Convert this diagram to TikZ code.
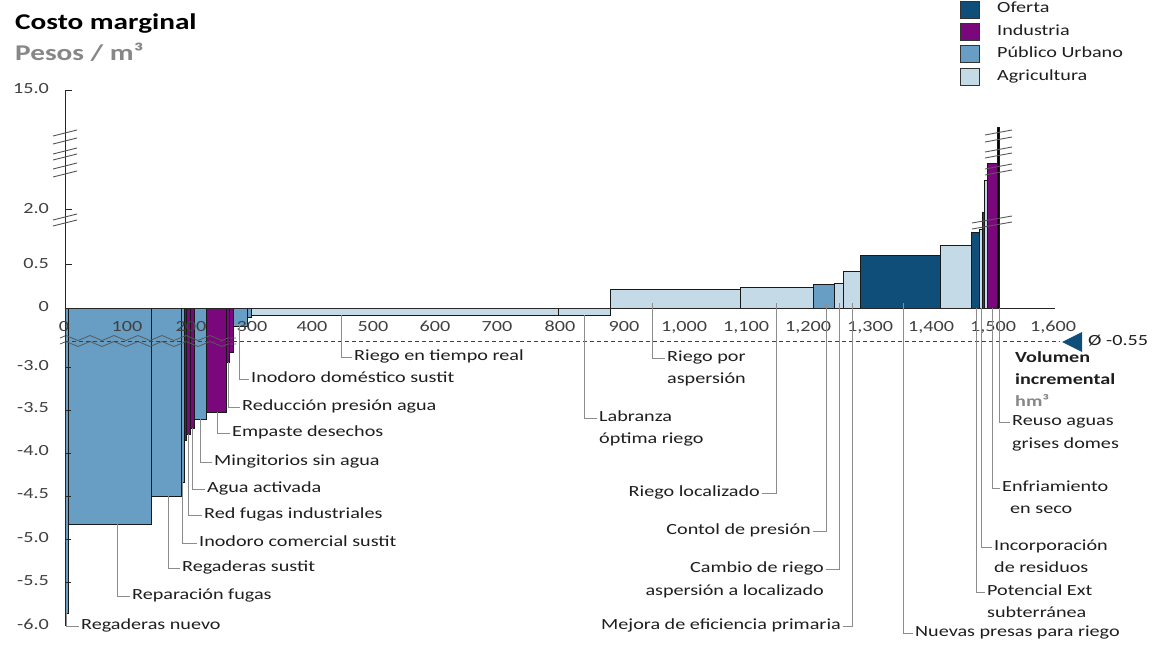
\documentclass[tikz,border=0pt]{standalone}
\usepackage{fontspec}
\setmainfont{Carlito}[FakeStretch=1.3]
\usetikzlibrary{decorations.pathmorphing}

\definecolor{oferta}{RGB}{16,78,122}
\definecolor{industria}{RGB}{122,8,124}
\definecolor{urbano}{RGB}{104,158,195}
\definecolor{agri}{RGB}{196,218,230}
\definecolor{leadergray}{RGB}{140,140,140}
\definecolor{softgray}{RGB}{135,135,135}
\definecolor{ink}{RGB}{30,30,30}

\begin{document}
\begin{tikzpicture}[x=1pt,y=-1pt,
  bar/.style={draw=black!90,line width=0.8pt},
  leader/.style={draw=leadergray,line width=0.8pt},
  lbl/.style={font=\fontsize{15.5}{18}\selectfont,text=ink,inner sep=2pt,text height=10pt,text depth=3pt},
  boldlbl/.style={lbl,font=\bfseries\fontsize{15.5}{18}\selectfont},
  num/.style={font=\fontsize{15.5}{18}\selectfont,text=ink!85,inner sep=1pt,text height=10pt,text depth=3pt},
  axisline/.style={draw=black!85,line width=1pt},
  slash/.style={draw=black!65,line width=0.9pt},
  wave/.style={draw=black!65,line width=0.8pt,decorate,decoration={zigzag,segment length=24pt,amplitude=2.5pt}},
  key/.style={draw=black!80,line width=0.8pt,minimum width=19pt,minimum height=17pt,inner sep=0pt},
]
\useasboundingbox (0,0) rectangle (1156,645);
\fill[white] (0,0) rectangle (1156,645);

% ---------- heading ----------
\node[anchor=base west,inner sep=0pt,font=\bfseries\fontsize{22.5}{26}\selectfont,text=black] (title) at (15,29) {Costo marginal};
\node[anchor=base west,inner sep=0pt,font=\bfseries\fontsize{22.5}{26}\selectfont,text=softgray] (unit) at (15,60) {Pesos / m³};

% ---------- legend ----------
\node[key,fill=oferta]    (k1) at (969.5,10) {};
\node[key,fill=industria] (k2) at (969.5,32) {};
\node[key,fill=urbano]    (k3) at (969.5,54) {};
\node[key,fill=agri]      (k4) at (969.5,77) {};
\node[lbl,anchor=west] (t1) at (995,9)  {Oferta};
\node[lbl,anchor=west] (t2) at (995,32) {Industria};
\node[lbl,anchor=west] (t3) at (995,54) {Público Urbano};
\node[lbl,anchor=west] (t4) at (995,77) {Agricultura};

% ---------- bars below zero (hanging from the axis) ----------
\foreach \xa/\xb/\yb/\c in {
  65/68/613/urbano, 68/151/524/urbano, 151/181/496/urbano, 181/184/482/urbano,
  184/186/440/industria, 186/190/434/industria, 190/194/428/industria,
  194/206/419/urbano, 206/226/412/industria, 226/229/362/industria,
  229/233/352/industria, 233/247/326/urbano, 247/251/317/urbano,
  251/558/315/agri, 558/610/315/agri}
  \draw[bar,fill=\c] (\xa,308) rectangle (\xb,\yb);

% ---------- bars above zero ----------
\foreach \xa/\xb/\yt/\c in {
  610/740/289/agri, 740/813/287/agri, 813/834/284/urbano, 834/843/283/agri,
  843/860/271/agri, 860/940/255/oferta, 940/971/245/agri, 971/979/232/oferta,
  979/982/229/agri, 982/984/212/oferta, 984/987/180/agri, 987/997/163/industria,
  997/999/127/black}
  \draw[bar,fill=\c] (\xa,308) rectangle (\xb,\yt);

% ---------- axis break across the negative bars ----------
\draw[wave] (60,338) -- (236,338);
\draw[wave] (60,344) -- (236,344);

% ---------- axes ----------
\draw[axisline] (72,90) -- (65,90) -- (65,626);
\foreach \yy in {209,264} \draw[axisline] (65,\yy) -- (72,\yy);
\foreach \yy in {367,410,453,496,539,582} \draw[axisline] (65,\yy) -- (71,\yy);
\draw[axisline] (65,308) -- (1055,308);

% breaks on the value axis
\foreach \yy in {133,141,151,157,166,174} \draw[slash] (53,\yy+3) -- (77,\yy-3);
\foreach \yy in {217,223} \draw[slash] (53,\yy+3) -- (77,\yy-3);
% breaks on the tall bars at the right
\foreach \yy in {223,229} \draw[slash] (972,\yy) -- (1012,\yy-7);
\foreach \yy in {135,142,152,158,169,175} \draw[slash] (985,\yy) -- (1012,\yy-5);

% value axis labels
\foreach \py/\t [count=\i] in {90/15.0, 210/2.0, 265/0.5, 308/0, 367/-3.0, 409/-3.5,
  452/-4.0, 495/-4.5, 539/-5.0, 582/-5.5, 626/-6.0}
  \node[num,anchor=east] (yl\i) at (50,\py) {\t};

% volume axis labels
\foreach \px/\t [count=\i] in {64/0, 127/100, 191/200, 252/300, 312/400, 373/500,
  435/600, 497/700, 560/800, 624/900, 684/{1,000}, 746/{1,100}, 808/{1,200},
  870/{1,300}, 931/{1,400}, 993/{1,500}, 1053/{1,600}}
  \node[num] (xl\i) at (\px,328) {\t};

% average line
\draw[black!75,line width=0.8pt,dash pattern=on 4pt off 3pt] (65,341) -- (1060,341);
\fill[oferta] (1062,342) -- (1082,332) -- (1082,352) -- cycle;
\node[lbl,anchor=west] (avg) at (1086,342) {Ø -0.55};

\node[boldlbl,anchor=west] (vol1) at (1013,359) {Volumen};
\node[boldlbl,anchor=west] (vol2) at (1013,381) {incremental};
\node[boldlbl,anchor=west,text=softgray] (vol3) at (1013,403) {hm³};

% ---------- labels and leaders ----------
\node[lbl,anchor=west] (l1)  at (79,626)  {Regaderas nuevo};
\node[lbl,anchor=west] (l2)  at (130,596) {Reparación fugas};
\node[lbl,anchor=west] (l3)  at (180,568) {Regaderas sustit};
\node[lbl,anchor=west] (l4)  at (197,543) {Inodoro comercial sustit};
\node[lbl,anchor=west] (l5)  at (202,515) {Red fugas industriales};
\node[lbl,anchor=west] (l6)  at (205,489) {Agua activada};
\node[lbl,anchor=west] (l7)  at (212,462) {Mingitorios sin agua};
\node[lbl,anchor=west] (l8)  at (230,433) {Empaste desechos};
\node[lbl,anchor=west] (l9)  at (240,407) {Reducción presión agua};
\node[lbl,anchor=west] (l10) at (249,379) {Inodoro doméstico sustit};
\node[lbl,anchor=west] (l11) at (352,357) {Riego en tiempo real};
\node[lbl,anchor=west] (l12) at (597,418) {Labranza};
\node[lbl,anchor=west] (l12b) at (597,440) {óptima riego};
\node[lbl,anchor=west] (l13) at (665,358) {Riego por};
\node[lbl,anchor=west] (l13b) at (665,380) {aspersión};
\node[lbl,anchor=east] (l14) at (762,493) {Riego localizado};
\node[lbl,anchor=east] (l15) at (813,531) {Contol de presión};
\node[lbl,anchor=east] (l16) at (826,569) {Cambio de riego};
\node[lbl,anchor=east] (l16b) at (826,592) {aspersión a localizado};
\node[lbl,anchor=east] (l17) at (843,626) {Mejora de eficiencia primaria};
\node[lbl,anchor=west] (l18) at (913,633) {Nuevas presas para riego};
\node[lbl,anchor=west] (l19) at (985,592) {Potencial Ext};
\node[lbl,anchor=west] (l19b) at (985,614) {subterránea};
\node[lbl,anchor=west] (l20) at (992,547) {Incorporación};
\node[lbl,anchor=west] (l20b) at (992,569) {de residuos};
\node[lbl,anchor=west] (l21) at (1000,488) {Enfriamiento};
\node[lbl,anchor=west] (l21b) at (1008,510) {en seco};
\node[lbl,anchor=west] (l22) at (1010,422) {Reuso aguas};
\node[lbl,anchor=west] (l22b) at (1010,445) {grises domes};

\coordinate (c1)  at (66.5,613);
\coordinate (c2)  at (117,524);
\coordinate (c3)  at (168,496);
\coordinate (c4)  at (182.5,482);
\coordinate (c5)  at (188,434);
\coordinate (c6)  at (192,428);
\coordinate (c7)  at (200,419);
\coordinate (c8)  at (217,412);
\coordinate (c9)  at (228,362);
\coordinate (c10) at (239,326);
\coordinate (c11) at (341,315);
\coordinate (c12) at (584,315);
\coordinate (c13) at (652,303);
\coordinate (c14) at (776,303);
\coordinate (c15) at (826,303);
\coordinate (c16) at (839,303);
\coordinate (c17) at (852,303);
\coordinate (c18) at (903,303);
\coordinate (c19) at (976,308);
\coordinate (c20) at (981,308);
\coordinate (c21) at (992,308);
\coordinate (c22) at (999,308);

\foreach \i in {1,...,13,18,19,20,21,22}
  \draw[leader] (c\i) |- (l\i.west);
\foreach \i in {14,15,16,17}
  \draw[leader] (c\i) |- (l\i.east);
\end{tikzpicture}
\end{document}
